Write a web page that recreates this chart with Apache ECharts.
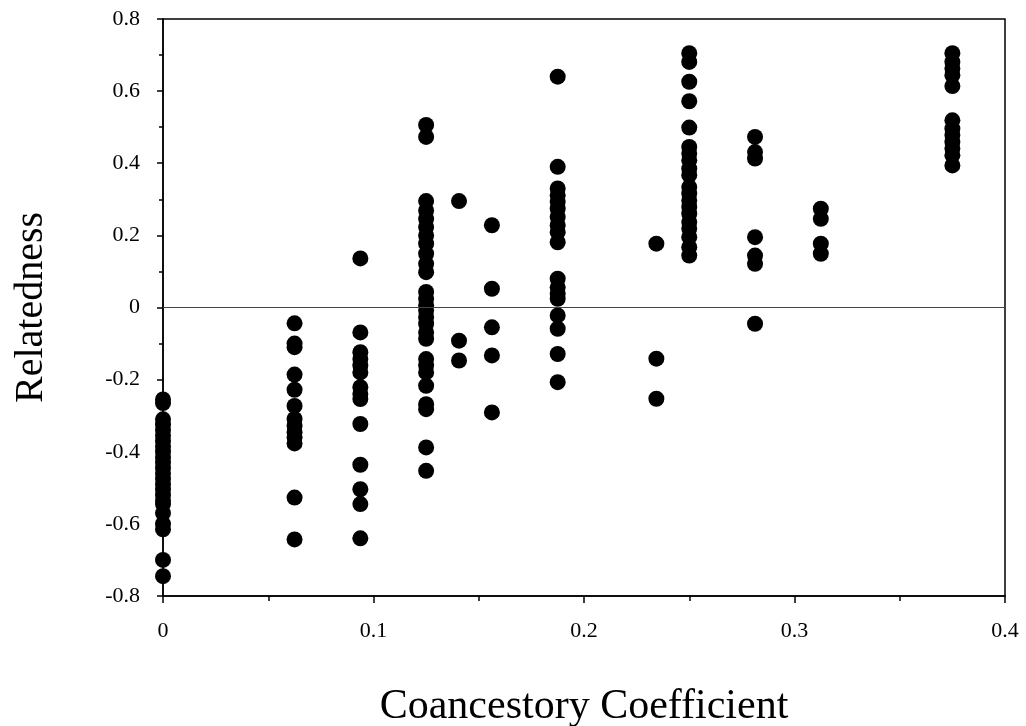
<!DOCTYPE html>
<html>
<head>
<meta charset="utf-8">
<script src="https://cdn.jsdelivr.net/npm/echarts@6/dist/echarts.min.js"></script>
<style>
html, body { margin: 0; padding: 0; background: #fff; }
#main { width: 1026px; height: 726px; }
</style>
</head>
<body>
<div id="main"></div>
<script>
// coancestry classes (x) and relatedness values read for each class
var coancestry = [0, 0.0625, 0.09375, 0.125, 0.140625, 0.15625, 0.1875, 0.234375, 0.25, 0.28125, 0.3125, 0.375];

var rel_0 = [-0.255, -0.265, -0.31, -0.325, -0.34, -0.355, -0.37, -0.385, -0.40, -0.415, -0.43, -0.445, -0.46, -0.475, -0.49, -0.505, -0.52, -0.535, -0.545, -0.57, -0.60, -0.615, -0.70, -0.745];
var rel_0625 = [-0.044, -0.10, -0.11, -0.186, -0.228, -0.273, -0.309, -0.328, -0.346, -0.36, -0.377, -0.527, -0.643];
var rel_09375 = [0.136, -0.069, -0.124, -0.143, -0.161, -0.18, -0.221, -0.24, -0.254, -0.323, -0.436, -0.504, -0.545, -0.64];
var rel_125 = [0.506, 0.473, 0.295, 0.269, 0.246, 0.223, 0.2, 0.177, 0.149, 0.121, 0.098, 0.043, 0.024, 0.006, -0.008, -0.027, -0.045, -0.069, -0.087, -0.143, -0.161, -0.18, -0.217, -0.268, -0.282, -0.388, -0.453];
var rel_140625 = [0.295, -0.092, -0.147];
var rel_15625 = [0.228, 0.052, -0.055, -0.133, -0.291];
var rel_1875 = [0.64, 0.39, 0.33, 0.311, 0.293, 0.274, 0.251, 0.228, 0.209, 0.181, 0.08, 0.056, 0.038, 0.024, -0.022, -0.059, -0.129, -0.207];
var rel_234375 = [0.177, -0.142, -0.253];
var rel_25 = [0.705, 0.681, 0.626, 0.572, 0.499, 0.445, 0.427, 0.408, 0.385, 0.367, 0.334, 0.316, 0.297, 0.279, 0.26, 0.237, 0.219, 0.195, 0.167, 0.144];
var rel_28125 = [0.473, 0.431, 0.413, 0.195, 0.144, 0.121, -0.045];
var rel_3125 = [0.274, 0.246, 0.177, 0.149];
var rel_375 = [0.705, 0.681, 0.663, 0.644, 0.614, 0.519, 0.496, 0.478, 0.459, 0.441, 0.422, 0.394];

var relatedness = [rel_0, rel_0625, rel_09375, rel_125, rel_140625, rel_15625, rel_1875, rel_234375, rel_25, rel_28125, rel_3125, rel_375];

var points = [];
for (var i = 0; i < coancestry.length; i++) {
	for (var j = 0; j < relatedness[i].length; j++) {
		points.push([coancestry[i], relatedness[i][j]]);
	}
}

var font = '"Liberation Serif", "DejaVu Serif", serif';
var myChart = echarts.init(document.getElementById('main'));

var option = {
	backgroundColor: '#fff',
	animation: false,
	grid: {
		left: 163, right: 21, top: 19, bottom: 130,
		outerBoundsMode: 'none', containLabel: false,
		show: true, borderColor: '#000', borderWidth: 1.5
	},
	xAxis: {
		type: 'value', min: 0, max: 0.4, interval: 0.1,
		name: 'Coancestory Coefficient', nameLocation: 'middle', nameGap: 90,
		nameTextStyle: { fontFamily: font, fontSize: 42, color: '#000' },
		axisLine: { show: true, onZero: false, lineStyle: { color: '#000', width: 1.5 } },
		axisTick: { show: true, length: 7, lineStyle: { color: '#000', width: 1.5 } },
		minorTick: { show: true, splitNumber: 2, length: 5, lineStyle: { color: '#000', width: 1.5 } },
		axisLabel: { fontFamily: font, fontSize: 22, color: '#000', margin: 24 },
		splitLine: { show: false }
	},
	yAxis: {
		type: 'value', min: -0.8, max: 0.8, interval: 0.2,
		name: 'Relatedness', nameLocation: 'middle', nameGap: 112,
		nameTextStyle: { fontFamily: font, fontSize: 40, color: '#000' },
		axisLine: { show: true, onZero: false, lineStyle: { color: '#000', width: 1.5 } },
		axisTick: { show: true, length: 6, lineStyle: { color: '#000', width: 1.5 } },
		minorTick: { show: true, splitNumber: 2, length: 4, lineStyle: { color: '#000', width: 1.5 } },
		axisLabel: { fontFamily: font, fontSize: 22, color: '#000', margin: 23,
			formatter: function (v) { return String(Math.round(v * 10) / 10); } },
		splitLine: { show: false }
	},
	series: [{
		type: 'scatter',
		data: points,
		symbol: 'circle',
		symbolSize: 16,
		itemStyle: { color: '#000', opacity: 1 },
		markLine: {
			silent: true, symbol: 'none', label: { show: false },
			lineStyle: { color: '#444', width: 1.2, type: 'solid' },
			data: [{ yAxis: 0 }]
		}
	}]
};

myChart.setOption(option);
</script>
</body>
</html>
